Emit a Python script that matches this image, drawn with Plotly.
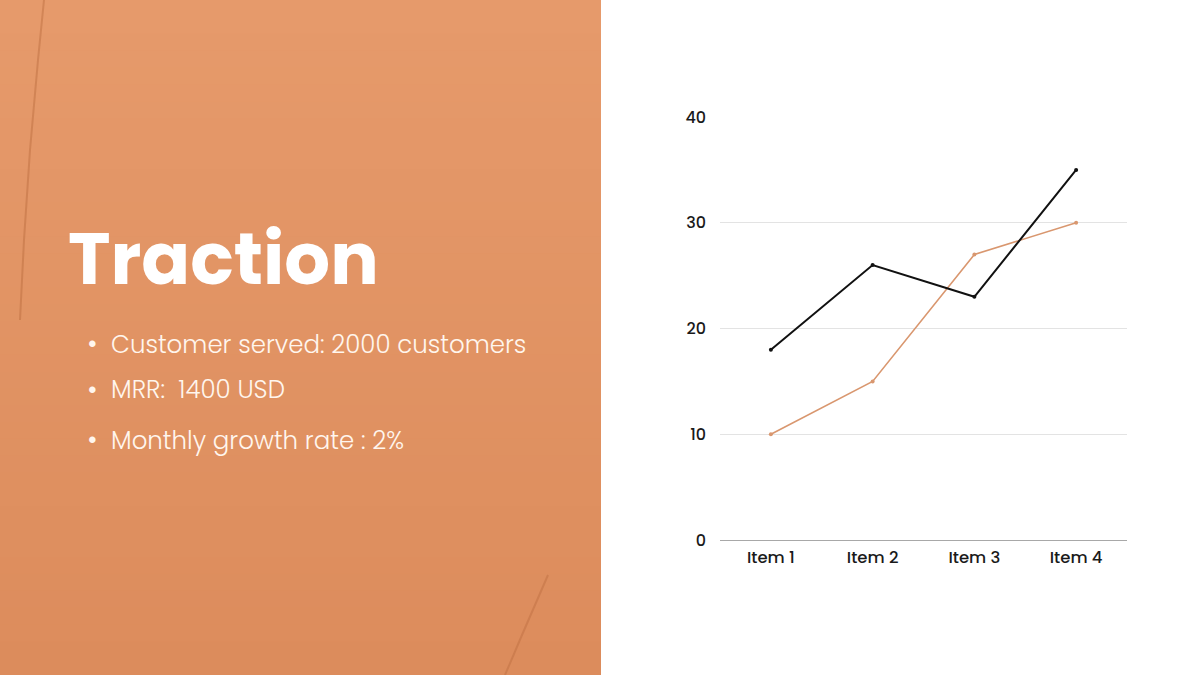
import plotly.graph_objects as go

categories = ["Item 1", "Item 2", "Item 3", "Item 4"]
series_a = [18, 26, 23, 35]
series_b = [10, 15, 27, 30]
y_ticks = [0, 10, 20, 30, 40]
title_text = "Traction"
bullets = ["Customer served: 2000 customers", "MRR:  1400 USD", "Monthly growth rate : 2%"]

W, H = 1200, 675
FONT = "Poppins, Inter, Lato, sans-serif"

fig = go.Figure()
fig.add_trace(go.Scatter(x=categories, y=series_b, mode="lines+markers",
                         line=dict(color="#D9976F", width=1.6),
                         marker=dict(size=4, color="#D9976F"), showlegend=False))
fig.add_trace(go.Scatter(x=categories, y=series_a, mode="lines+markers",
                         line=dict(color="#111111", width=2),
                         marker=dict(size=4, color="#111111"), showlegend=False))

# background panel with a gentle vertical gradient
shapes = []
top = (0xE6, 0x9A, 0x6B)
bot = (0xDC, 0x8C, 0x5C)
n = 40
for i in range(n):
    t = i / (n - 1)
    c = tuple(round(top[k] + (bot[k] - top[k]) * t) for k in range(3))
    shapes.append(dict(type="rect", xref="paper", yref="paper", x0=0, x1=601 / W,
                       y0=max(0, 1 - (i + 1) / n - 0.002), y1=1 - i / n,
                       fillcolor="rgb(%d,%d,%d)" % c, line=dict(width=0), layer="below"))
shapes += [
    dict(type="path", xref="paper", yref="paper",
         path=f"M {44/W},1 L {38/W},{1-60/H} L {30/W},{1-150/H} L {24/W},{1-240/H} L {20/W},{1-320/H}",
         line=dict(color="rgba(170,90,45,0.33)", width=2), layer="below"),
    dict(type="path", xref="paper", yref="paper",
         path=f"M {505/W},0 L {522/W},{40/H} L {535/W},{70/H} L {548/W},{100/H}",
         line=dict(color="rgba(170,90,45,0.28)", width=2), layer="below"),
]

annotations = [
    dict(text=f"<b>{title_text}</b>", xref="paper", yref="paper", x=66 / W, y=1 - 259 / H,
         xanchor="left", yanchor="middle", showarrow=False,
         font=dict(family=FONT, size=72, color="#FFFFFF")),
]
bullet_y = [344, 390, 440]
for txt, yy in zip(bullets, bullet_y):
    annotations.append(dict(text="\u2022", xref="paper", yref="paper", x=92 / W, y=1 - yy / H,
                            xanchor="center", yanchor="middle", showarrow=False,
                            font=dict(family=FONT, size=26, color="#FFF6EE")))
    annotations.append(dict(text=txt, xref="paper", yref="paper", x=109 / W, y=1 - yy / H,
                            xanchor="left", yanchor="middle", showarrow=False,
                            font=dict(family=FONT, size=24.5, color="#FFF6EE", weight=300)))

fig.update_layout(
    width=W, height=H, autosize=False, margin=dict(l=0, r=0, t=0, b=0, pad=0),
    paper_bgcolor="#FFFFFF", plot_bgcolor="#FFFFFF",
    shapes=shapes, annotations=annotations,
    xaxis=dict(domain=[720 / W, 1127 / W], range=[-0.5, 3.5], showgrid=False,
               showline=False, zeroline=False, ticks="", automargin=False,
               tickfont=dict(family=FONT, size=16.5, color="#1A1A1A", weight=500),
               ticklabelstandoff=5, fixedrange=True),
    yaxis=dict(domain=[135 / H, 558 / H], range=[0, 40], tickvals=y_ticks,
               showgrid=True, gridcolor="#E3E3E3", gridwidth=1, automargin=False,
               zeroline=True, zerolinecolor="#A8A8A8", zerolinewidth=1,
               showline=False, ticks="",
               tickfont=dict(family=FONT, size=16, color="#1A1A1A", weight=500),
               ticklabelstandoff=13, fixedrange=True),
)

post = ("var d=document.getElementById('{plot_id}');"
        "document.body.style.margin='0';document.body.style.padding='0';"
        "d.style.position='absolute';d.style.left='0px';d.style.top='0px';")
fig.write_html("out.html", post_script=post, config={"displayModeBar": False})
